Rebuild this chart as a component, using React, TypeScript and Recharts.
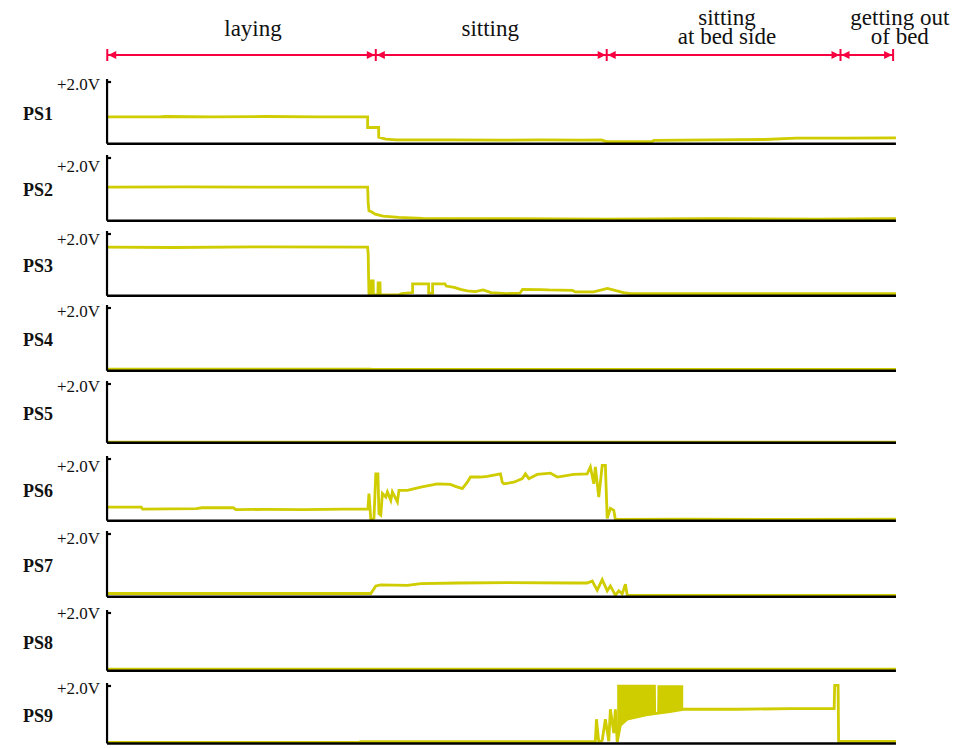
import React from "react";
import { ComposedChart, Line, Area, XAxis, YAxis } from "recharts";

const YELLOW = "#cfcc00";
const RED = "#f80040";
const INK = "#111";
const SERIF = "Liberation Serif";

type Pt = [number, number];

// time (s) , voltage (V)
const PS1: Pt[] = [
  [0, 0.83], [20, 0.83], [22, 0.84], [40, 0.83], [60, 0.84], [80, 0.83], [99.1, 0.83],
  [99.1, 0.5], [103.3, 0.5], [103.3, 0.2], [106, 0.14], [110, 0.12], [130, 0.12],
  [150, 0.11], [165, 0.12], [180, 0.11], [188, 0.12], [190.2, 0.06], [207, 0.06],
  [208, 0.1], [230, 0.12], [250, 0.13], [262, 0.17], [280, 0.17], [300, 0.18],
];

const PS2: Pt[] = [
  [0, 1.02], [30, 1.03], [60, 1.02], [99.1, 1.02], [99.3, 0.55], [99.6, 0.3],
  [100.5, 0.27], [102, 0.2], [105, 0.14], [111, 0.1], [120, 0.07], [150, 0.06],
  [190, 0.05], [230, 0.06], [270, 0.05], [300, 0.06],
];

const PS3: Pt[] = [
  [0, 1.5], [25, 1.49], [60, 1.51], [99.1, 1.5], [99.3, 1.3], [99.6, 0.05], [100.5, 0.05],
  [100.6, 0.46], [101.2, 0.46], [101.3, 0.03], [103, 0.03], [103.1, 0.4], [103.8, 0.4],
  [103.9, 0.03], [111, 0.03], [112, 0.07], [116.2, 0.1], [116.2, 0.37], [122.3, 0.37],
  [122.3, 0.08], [123.8, 0.08], [123.8, 0.37], [128.5, 0.37], [129, 0.3], [132, 0.26],
  [134.4, 0.2], [137, 0.15], [140, 0.13], [143, 0.18], [146, 0.1], [152, 0.07],
  [157, 0.08], [158, 0.2], [165, 0.19], [168, 0.18], [177, 0.17], [178, 0.12],
  [185, 0.12], [190.3, 0.23], [196.4, 0.1], [199, 0.07], [210, 0.07], [260, 0.07], [300, 0.07],
];

const PS4: Pt[] = [[0, 0.05], [100, 0.05], [101, 0.04], [200, 0.04], [300, 0.04]];

const PS5: Pt[] = [[0, 0.02], [150, 0.02], [300, 0.02]];

const PS6: Pt[] = [
  [0, 0.42], [13, 0.42], [13.5, 0.36], [34, 0.37], [36, 0.4], [48, 0.4], [49, 0.34],
  [60, 0.35], [75, 0.34], [90, 0.36], [99.2, 0.36], [99.6, 0.84], [100.3, 0.04],
  [101.5, 0.08], [102.2, 1.45], [103.0, 1.45], [103.4, 0.22], [104.1, 0.17], [104.7, 0.84],
  [106.0, 0.73], [106.6, 0.89], [107.9, 0.63], [108.5, 0.89], [110.4, 0.58], [111.0, 0.94],
  [114.2, 0.94], [119.3, 1.04], [125.6, 1.14], [130.6, 1.12], [132.5, 1.06], [135.1, 0.99],
  [137.0, 1.19], [138.2, 1.35], [142.0, 1.35], [144.6, 1.37], [149.6, 1.45], [150.3, 1.19],
  [150.9, 1.14], [154.7, 1.19], [157.9, 1.3], [159.1, 1.45], [160.4, 1.3], [163.6, 1.43],
  [168.6, 1.47], [171.2, 1.35], [177.5, 1.43], [182.6, 1.45], [183.8, 1.66], [185.1, 1.14],
  [185.7, 1.66], [187.0, 0.73], [188.3, 1.71], [189.5, 1.71], [190.2, 0.07], [191.4, 0.38],
  [192.7, 0.32], [193.3, 0.04], [220, 0.05], [260, 0.04], [300, 0.05],
];

const PS7: Pt[] = [
  [0, 0.1], [100.3, 0.1], [102.2, 0.33], [104.1, 0.36], [114.2, 0.35], [119.3, 0.4],
  [133.2, 0.42], [152.2, 0.43], [177.5, 0.42], [182.6, 0.42], [184.5, 0.48], [186.4, 0.2],
  [188.3, 0.52], [190.2, 0.18], [191.4, 0.33], [193.3, 0.05], [194.6, 0.18], [195.9, 0.09],
  [197.1, 0.38], [197.8, 0.05], [240, 0.04], [300, 0.04],
];

const PS8: Pt[] = [[0, 0.05], [100, 0.05], [200, 0.05], [300, 0.05]];

const PS9: Pt[] = [
  [0, 0.03], [96.5, 0.03], [96.5, 0.06], [185.7, 0.06], [186.1, 0.8], [187.0, 0.03],
  [188.3, 0.1], [189.5, 0.8], [190.8, 0.07], [191.4, 1.13], [192.7, 0.34], [193.3, 1.13],
  [194.0, 0.05], [195.2, 0.6], [197.8, 0.8], [201.6, 0.88], [205.4, 0.95], [209.6, 1.0],
  [214, 1.05], [219.1, 1.13], [240, 1.13], [260, 1.15], [276.5, 1.15], [276.7, 1.92],
  [278, 1.92], [278.2, 0.07], [300, 0.07],
];

// fast oscillation in PS9, drawn as a min/max envelope: time, low, high
const PS9_BAND: [number, number, number][] = [
  [194.0, 0.05, 1.92], [195.2, 0.6, 1.92], [197.8, 0.8, 1.92], [201.6, 0.88, 1.92],
  [205.4, 0.95, 1.92], [208.4, 0.97, 1.92], [208.5, 0.97, 1.0], [209.5, 1.0, 1.0],
  [209.6, 1.0, 1.9], [214, 1.05, 1.9], [219.1, 1.13, 1.9],
];

const SENSOR_NAMES = ["PS1", "PS2", "PS3", "PS4", "PS5", "PS6", "PS7", "PS8", "PS9"];
const SENSOR_DATA = [PS1, PS2, PS3, PS4, PS5, PS6, PS7, PS8, PS9];

const PHASE_LABELS = [["laying"], ["sitting"], ["sitting", "at bed side"], ["getting out", "of bed"]];
const PHASE_EDGES = [0.1, 102.2, 190.0, 278.9, 298.9];

// layout
const W = 977;
const AXIS_LEFT = 107;
const AXIS_RIGHT = 896;
const PANEL_TOP = [79, 155, 230.7, 304.5, 381, 456, 530.5, 610, 683.3];
const PANEL_BASE = [143.7, 220.7, 295.5, 370.3, 442.8, 520.7, 596.3, 670.7, 743.7];
const TOP_LABEL_SHIFT = [2.3, 8.7, 5.3, 4, 3, 8, 5, 1, 3];
const ZERO_LABEL_SHIFT = [-3.4, -3.4, -5.5, -5, -2.3, -3, -4, -6, -2];
const PHASE_LABEL_DX = [11.5, -1, 3.4, 33];
const HEADER_H = 70;
const ARROW_Y = 55;

const toRows = (pts: Pt[]) => pts.map(([t, v]) => ({ t, v }));

function VoltTick(props: any) {
  const { x, y, payload, shiftTop, shiftZero } = props;
  const isTop = payload.value === 2;
  return (
    <g>
      <text
        x={x}
        y={y + (isTop ? shiftTop : shiftZero) + 5.5}
        textAnchor="end"
        style={{ fontFamily: SERIF, fontSize: 17 }}
        fill={INK}
      >
        {isTop ? "+2.0V" : "0"}
      </text>
      {isTop && <line x1={x + 6} x2={x + 11} y1={y} y2={y} stroke="#000" strokeWidth={2.2} />}
    </g>
  );
}

// vertical stop mark + arrow heads at every phase boundary
function EdgeMark(props: any) {
  const { cx, cy, index } = props;
  const last = PHASE_EDGES.length - 1;
  return (
    <g key={`e${index}`}>
      <line x1={cx} x2={cx} y1={cy - 6} y2={cy + 6} stroke={RED} strokeWidth={2} />
      {index > 0 && <polygon points={`${cx - 1},${cy} ${cx - 9},${cy - 4} ${cx - 9},${cy + 4}`} fill={RED} />}
      {index < last && <polygon points={`${cx + 1},${cy} ${cx + 9},${cy - 4} ${cx + 9},${cy + 4}`} fill={RED} />}
    </g>
  );
}

function PhaseText(props: any) {
  const { cx, index } = props;
  const lines = PHASE_LABELS[index];
  const x = cx + PHASE_LABEL_DX[index];
  return (
    <g key={`p${index}`}>
      {lines.map((s, j) => (
        <text
          key={j}
          x={x}
          y={lines.length === 1 ? 36 : 25 + j * 19}
          textAnchor="middle"
          style={{ fontFamily: SERIF, fontSize: 23 }}
          fill={INK}
        >
          {s}
        </text>
      ))}
    </g>
  );
}

function Phases() {
  const edges = PHASE_EDGES.map((t) => ({ t, y: ARROW_Y }));
  const mids = PHASE_LABELS.map((_, k) => ({ t: (PHASE_EDGES[k] + PHASE_EDGES[k + 1]) / 2, y: ARROW_Y }));
  return (
    <div style={{ position: "absolute", left: 0, top: 0 }}>
      <ComposedChart
        width={W}
        height={HEADER_H}
        margin={{ top: 0, right: W - AXIS_RIGHT, bottom: 0, left: AXIS_LEFT }}
      >
        <XAxis type="number" dataKey="t" domain={[0, 300]} hide />
        <YAxis type="number" domain={[0, HEADER_H]} reversed hide />
        <Line
          data={edges}
          dataKey="y"
          stroke={RED}
          strokeWidth={2}
          dot={(p: any) => <EdgeMark {...p} />}
          activeDot={false}
          isAnimationActive={false}
        />
        <Line
          data={mids}
          dataKey="y"
          stroke="none"
          dot={(p: any) => <PhaseText {...p} />}
          activeDot={false}
          isAnimationActive={false}
        />
      </ComposedChart>
    </div>
  );
}

function Panel({ i }: { i: number }) {
  const top = PANEL_TOP[i];
  const ph = PANEL_BASE[i] - top;
  const mt = 6;
  const mb = 6;
  return (
    <div style={{ position: "absolute", left: 0, top: top - mt }}>
      <ComposedChart
        width={W}
        height={ph + mt + mb}
        margin={{ top: mt, right: W - AXIS_RIGHT, bottom: mb - 1, left: AXIS_LEFT - 50 }}
      >
        <XAxis
          type="number"
          dataKey="t"
          domain={[0, 300]}
          tick={false}
          tickLine={false}
          height={1}
          axisLine={{ stroke: "#000", strokeWidth: 2.5 }}
        />
        <YAxis
          type="number"
          domain={[0, 2]}
          ticks={[0, 2]}
          width={50}
          tickSize={0}
          tickMargin={7}
          tickLine={false}
          axisLine={{ stroke: "#000", strokeWidth: 2.2 }}
          tick={<VoltTick shiftTop={TOP_LABEL_SHIFT[i]} shiftZero={ZERO_LABEL_SHIFT[i]} />}
          label={{
            value: SENSOR_NAMES[i],
            position: "left",
            offset: 4,
            dy: 2,
            fontFamily: SERIF,
            fontSize: 18,
            fontWeight: 700,
            fill: INK,
          }}
        />
        {i === 8 && (
          <Area
            data={PS9_BAND.map(([t, lo, hi]) => ({ t, range: [lo, hi] }))}
            dataKey="range"
            type="linear"
            stroke={YELLOW}
            strokeWidth={1.5}
            fill={YELLOW}
            fillOpacity={1}
            dot={false}
            activeDot={false}
            isAnimationActive={false}
          />
        )}
        <Line
          data={toRows(SENSOR_DATA[i])}
          dataKey="v"
          type="linear"
          stroke={YELLOW}
          strokeWidth={2.8}
          dot={false}
          activeDot={false}
          isAnimationActive={false}
        />
      </ComposedChart>
    </div>
  );
}

export default function App() {
  return (
    <div style={{ position: "absolute", left: 0, top: 0, width: W, height: 748, background: "#fff" }}>
      <Phases />
      {SENSOR_NAMES.map((_, i) => (
        <Panel key={i} i={i} />
      ))}
    </div>
  );
}
